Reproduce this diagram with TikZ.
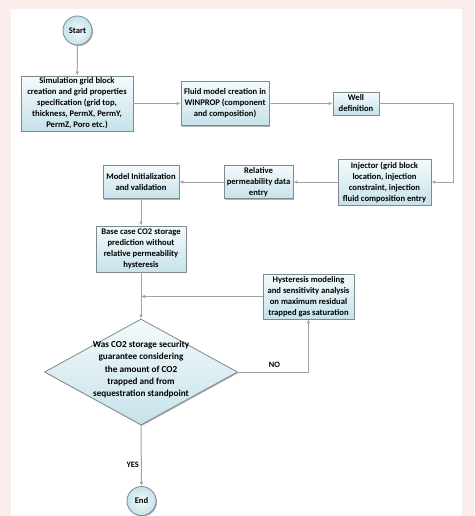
\documentclass[tikz,border=0pt]{standalone}
\usepackage{fontspec}
\setmainfont{Carlito}
\usetikzlibrary{shapes.geometric,arrows.meta,shadows}
\definecolor{framepink}{HTML}{FCEDED}
\definecolor{boxtop}{HTML}{F4FAFC}
\definecolor{boxbot}{HTML}{C6E2EA}
\definecolor{boxline}{HTML}{7E8A8E}
\definecolor{conn}{HTML}{A3A3A3}
\begin{document}
\begin{tikzpicture}[x=1pt,y=-1pt,
  boxnode/.style={rectangle, draw=boxline, line width=0.8pt, top color=boxtop, bottom color=boxbot,
    drop shadow={shadow xshift=1pt, shadow yshift=-1pt, opacity=0.3, fill=black},
    align=center, inner sep=1pt, font=\fontsize{8.6}{11}\selectfont\bfseries},
  termnode/.style={circle, draw=boxline, line width=0.8pt, inner color=boxtop, outer color=boxbot,
    minimum size=29pt, inner sep=0pt, font=\fontsize{8.6}{10}\selectfont\bfseries,
    drop shadow={shadow xshift=1pt, shadow yshift=-1pt, opacity=0.3, fill=black}},
  decnode/.style={diamond, draw=boxline, line width=0.8pt, top color=boxtop, bottom color=boxbot,
    aspect=1.82, minimum width=193pt, minimum height=106pt, inner sep=0pt,
    drop shadow={shadow xshift=1pt, shadow yshift=-1pt, opacity=0.3, fill=black}},
  conline/.style={draw=conn, line width=1pt, -{Latex[length=4pt,width=3.5pt]}},
  lab/.style={font=\fontsize{8.3}{10}\selectfont\bfseries, inner sep=1pt}
]
\useasboundingbox (0,0) rectangle (474,516);
\fill[framepink] (0,0) rectangle (474,516);
\fill[white] (11,9) rectangle (462,516);

\node[termnode] (start) at (77.5,30.5) {Start};
\node[boxnode, minimum width=112pt, minimum height=55pt] (grid) at (77,103.5)
  {Simulation grid block\\creation and grid properties\\specification (grid top,\\thickness, PermX, PermY,\\PermZ, Poro etc.)};
\node[boxnode, minimum width=88pt, minimum height=44pt] (fluid) at (225,103.5)
  {Fluid model creation in\\WINPROP (component\\and composition)};
\node[boxnode, minimum width=46pt, minimum height=23pt] (well) at (356,103.5)
  {Well\\definition};
\node[boxnode, minimum width=93pt, minimum height=46pt] (inj) at (384.5,182)
  {Injector (grid block\\location, injection\\constraint, injection\\fluid composition entry};
\node[boxnode, minimum width=69pt, minimum height=33pt] (relperm) at (258.5,182)
  {Relative\\permeability data\\entry};
\node[boxnode, minimum width=76pt, minimum height=33pt] (init) at (141,182)
  {Model Initialization\\and validation};
\node[boxnode, minimum width=90pt, minimum height=46pt] (base) at (141,249)
  {Base case CO2 storage\\prediction without\\relative permeability\\hysteresis};
\node[boxnode, minimum width=91pt, minimum height=45pt] (hyst) at (308.5,296.5)
  {Hysteresis modeling\\and sensitivity analysis\\on maximum residual\\trapped gas saturation};
\node[decnode] (dec) at (141,372)
  {\smash{\makebox[0pt]{\parbox[c]{130pt}{\centering\fontsize{9.2}{12.3}\selectfont\bfseries
   Was CO2 storage security\\guarantee considering\\the amount of CO2\\trapped and from\\sequestration standpoint}}}};
\node[termnode] (end) at (141.5,501) {End};

\coordinate (c1) at (453,103.5);
\coordinate (merge) at (141,296.5);

\draw[conline] (start) -- (grid);
\draw[conline] (grid) -- (fluid);
\draw[conline] (fluid) -- (well);
\draw[conline] (well.east) -- (c1) |- (inj.east);
\draw[conline] (inj) -- (relperm);
\draw[conline] (relperm) -- (init);
\draw[conline] (init) -- (base);
\draw[conline] (base) -- (dec.north);
\draw[conline] (hyst.west) -- (merge);
\draw[conline] (dec.east) -| node[lab, pos=0.5, above=3pt, xshift=-34pt] {NO} (hyst.south);
\draw[conline] (dec.south) -- node[lab, pos=0.65, left=1pt] {YES} (end.north);
\end{tikzpicture}
\end{document}
